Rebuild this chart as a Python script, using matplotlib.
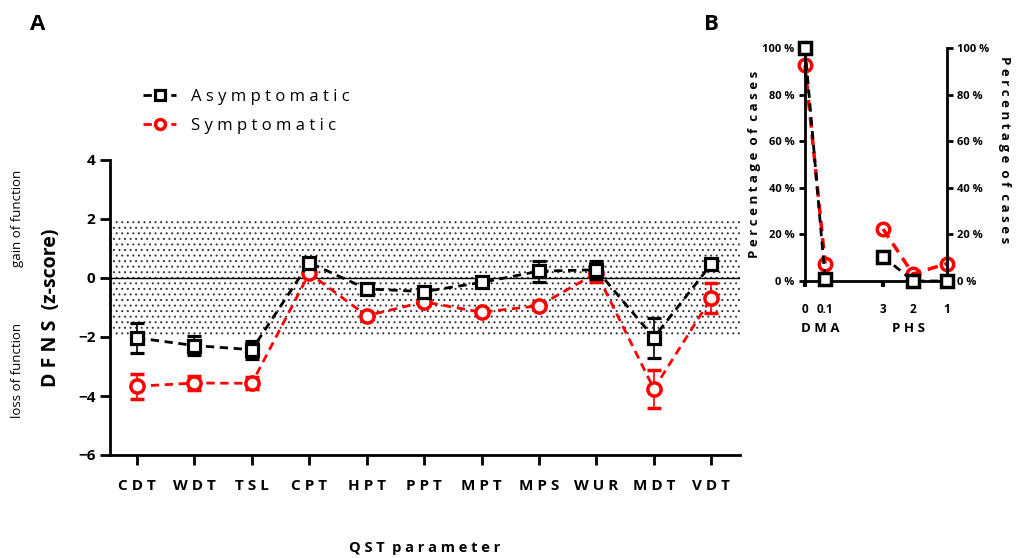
import matplotlib
matplotlib.use("Agg")
import matplotlib.pyplot as plt
import numpy as np

plt.rcParams['font.family'] = ['Open Sans', 'DejaVu Sans']
plt.rcParams['hatch.linewidth'] = 0.7

# panel A data
params = ["CDT", "WDT", "TSL", "CPT", "HPT", "PPT", "MPT", "MPS", "WUR", "MDT", "VDT"]
asym_mean = [-2.03, -2.29, -2.43, 0.52, -0.37, -0.46, -0.15, 0.23, 0.28, -2.02, 0.47]
asym_err = [0.50, 0.32, 0.31, 0.10, 0.10, 0.10, 0.10, 0.35, 0.30, 0.68, 0.10]
sym_mean = [-3.67, -3.56, -3.57, 0.16, -1.28, -0.81, -1.16, -0.94, 0.17, -3.76, -0.68]
sym_err = [0.42, 0.24, 0.20, 0.10, 0.10, 0.10, 0.10, 0.10, 0.30, 0.64, 0.52]

# panel B data
b_labels = ["0", "0.1", "3", "2", "1"]
b_pos = [0.0, 0.67, 2.6, 3.6, 4.73]
dma_idx = [0, 1]
phs_idx = [2, 3, 4]
asym_pct = [100, 1, 10.5, 0, 0]
sym_pct = [92.5, 7.5, 22.3, 3, 7.5]

fig = plt.figure(figsize=(10.16, 5.58), dpi=100)

# ---- panel A
ax = fig.add_axes([110/1016, 1-455/558, 630/1016, 295/558])
x = np.arange(len(params))
ax.set_xlim(-0.47, 10.5)
ax.set_ylim(-6, 4)

ax.fill_between([-0.47, 10.5], -2, 2, facecolor="none", edgecolor="#333333",
                hatch="...", linewidth=0, zorder=0)
ax.axhline(0, color="black", lw=1, zorder=1)

e1 = ax.errorbar(x, asym_mean, yerr=asym_err, color="black", ls=(0, (3, 2)), lw=2,
                 marker="s", ms=9, mfc="white", mec="black", mew=2.3,
                 capsize=5, elinewidth=1.2, capthick=1.2, zorder=3)
e2 = ax.errorbar(x, sym_mean, yerr=sym_err, color="red", ls=(0, (3, 2)), lw=2,
                 marker="o", ms=9.5, mfc="white", mec="red", mew=2.5,
                 capsize=5, elinewidth=1.2, capthick=1.2, zorder=2)

for s in ["top", "right"]:
    ax.spines[s].set_visible(False)
for s in ["left", "bottom"]:
    ax.spines[s].set_linewidth(2)
ax.set_yticks([4, 2, 0, -2, -4, -6])
ax.set_xticks(x)
ax.set_xticklabels([" ".join(p) for p in params])
ax.tick_params(axis="both", width=2, length=7, labelsize=11)
ax.tick_params(axis="x", pad=10)
for t in ax.get_xticklabels() + ax.get_yticklabels():
    t.set_fontweight("bold")

ax.set_ylabel("D F N S  (z-score)", fontsize=14, fontweight="bold")
ax.yaxis.set_label_coords(-0.077, 0.5)
fig.text(425/1016, 1-548/558, "Q S T  p a r a m e t e r", ha="center", va="center",
         fontsize=10.5, fontweight="bold")
fig.text(18/1016, 1-218/558, "gain of function", rotation=90, ha="center", va="center", fontsize=9.5)
fig.text(18/1016, 1-370/558, "loss of function", rotation=90, ha="center", va="center", fontsize=9.5)

leg = ax.legend([e1[0], e2[0]], ["A s y m p t o m a t i c", "S y m p t o m a t i c"],
                loc="upper left", bbox_to_anchor=(128/1016, 1-74/558), bbox_transform=fig.transFigure,
                frameon=False, fontsize=12, handlelength=2.0, labelspacing=0.8, handletextpad=0.9,
                markerscale=0.75)

fig.text(38/1016, 1-25/558, "A", fontsize=16, fontweight="bold", ha="center", va="center")
fig.text(711/1016, 1-25/558, "B", fontsize=16, fontweight="bold", ha="center", va="center")

# ---- panel B
bx = fig.add_axes([805/1016, 1-281/558, 142/1016, 233/558])
bx.set_xlim(0, 4.73)
bx.set_ylim(0, 100)
bp = np.array(b_pos)
ap = np.array(asym_pct)
sp = np.array(sym_pct)
for idx in (dma_idx, phs_idx):
    bx.plot(bp[idx], ap[idx], color="black", ls=(0, (3, 2)), lw=2, marker="s", ms=8,
            mfc="white", mec="black", mew=2.5, clip_on=False, zorder=3)
    bx.plot(bp[idx], sp[idx], color="red", ls=(0, (3, 2)), lw=2.5, marker="o", ms=9,
            mfc="none", mec="red", mew=2.5, clip_on=False, zorder=2)

bx.spines["top"].set_visible(False)
for s in ["left", "right", "bottom"]:
    bx.spines[s].set_linewidth(2)
pct_ticks = [0, 20, 40, 60, 80, 100]
bx.set_yticks(pct_ticks)
bx.set_yticklabels([f"{v} %" for v in pct_ticks])
bx.tick_params(axis="y", which="both", left=True, right=True, labelleft=True, labelright=True,
               width=2, length=4, labelsize=8)
bx.set_xticks(bp)
bx.set_xticklabels(b_labels)
bx.tick_params(axis="x", width=3, length=4, labelsize=8.5, pad=12)
for t in bx.get_xticklabels() + bx.get_yticklabels():
    t.set_fontweight("bold")
for tk in bx.yaxis.get_major_ticks():
    tk.label2.set_fontweight("bold")

bx.set_ylabel("P e r c e n t a g e  o f  c a s e s", fontsize=9.5, fontweight="bold")
bx.yaxis.set_label_coords(-0.31, 0.5)
fig.text(1005/1016, 1-150/558, "P e r c e n t a g e  o f  c a s e s", rotation=-90,
         ha="center", va="center", fontsize=9.5, fontweight="bold")
fig.text(820/1016, 1-328/558, "D M A", ha="center", va="center", fontsize=9.5, fontweight="bold")
fig.text(908/1016, 1-328/558, "P H S", ha="center", va="center", fontsize=9.5, fontweight="bold")

fig.savefig("out.png", dpi=100)
